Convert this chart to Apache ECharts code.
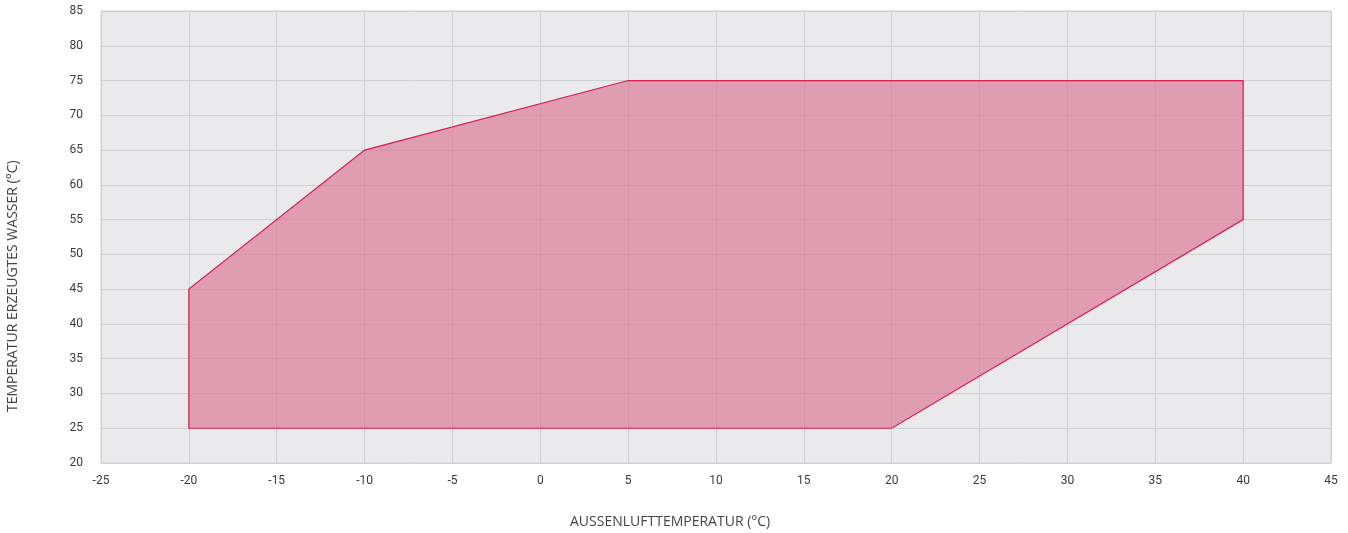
<!DOCTYPE html>
<html>
<head>
<meta charset="utf-8">
<script src="https://cdn.jsdelivr.net/npm/echarts@6/dist/echarts.min.js"></script>
<style>
  html, body { margin: 0; padding: 0; background: #ffffff; }
  #chart { width: 1348px; height: 533px; }
</style>
</head>
<body>
<div id="chart"></div>
<script>
// Operating envelope: outdoor air temperature vs. produced water temperature
const outdoorTemp = [-20, -20, -10, 5, 40, 40, 20];
const waterTemp   = [25, 45, 65, 75, 75, 55, 25];

const xTicks = { min: -25, max: 45, interval: 5 };
const yTicks = { min: 20, max: 85, interval: 5 };

const xTitle = 'AUSSENLUFTTEMPERATUR (°C)';
const yTitle = 'TEMPERATUR ERZEUGTES WASSER (°C)';

const envelope = outdoorTemp.map((x, i) => [x, waterTemp[i]]);

const chart = echarts.init(document.getElementById('chart'));

const labelStyle = {
  color: '#3a3a3a',
  fontFamily: 'Roboto, "DejaVu Sans", sans-serif',
  fontSize: 12
};

chart.setOption({
  animation: false,
  grid: {
    left: 101, right: 17, top: 11, bottom: 70,
    show: true,
    backgroundColor: '#eaeaec',
    borderColor: '#d3d3d5',
    borderWidth: 1
  },
  xAxis: {
    type: 'value',
    min: xTicks.min, max: xTicks.max, interval: xTicks.interval,
    axisLine: { show: false },
    axisTick: { show: false },
    axisLabel: Object.assign({ margin: 12 }, labelStyle),
    splitLine: { show: true, lineStyle: { color: '#d0d0d2', width: 1 } }
  },
  yAxis: {
    type: 'value',
    min: yTicks.min, max: yTicks.max, interval: yTicks.interval,
    axisLine: { show: false },
    axisTick: { show: false },
    axisLabel: Object.assign({ margin: 18 }, labelStyle),
    splitLine: { show: true, lineStyle: { color: '#d0d0d2', width: 1 } }
  },
  graphic: [
    {
      type: 'text',
      left: 570, top: 515,
      style: {
        text: xTitle,
        fill: '#444444',
        font: '14px "Open Sans", sans-serif'
      }
    },
    {
      type: 'text',
      x: 6, y: 412,
      rotation: Math.PI / 2,
      style: {
        text: yTitle,
        fill: '#444444',
        font: '14px "Open Sans", sans-serif',
        textVerticalAlign: 'top'
      }
    }
  ],
  series: [
    {
      type: 'custom',
      coordinateSystem: 'cartesian2d',
      data: envelope,
      z: 3,
      renderItem: function (params, api) {
        if (params.dataIndex !== 0) return null;
        const pts = envelope.map(p => api.coord(p));
        return {
          type: 'polygon',
          shape: { points: pts },
          style: {
            fill: 'rgba(218, 110, 140, 0.62)',
            stroke: '#d81e4e',
            lineWidth: 1.2
          }
        };
      }
    }
  ]
});
</script>
</body>
</html>
